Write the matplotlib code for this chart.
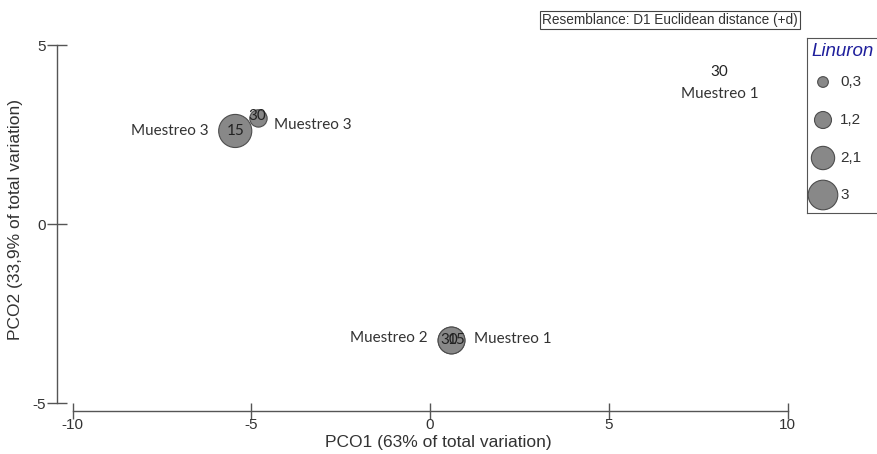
import matplotlib
matplotlib.use('Agg')
import matplotlib.pyplot as plt

plt.rcParams['font.family'] = ['Liberation Sans', 'DejaVu Sans']
plt.rcParams['axes.unicode_minus'] = False

# PCO scores
pco1 = [8.1, -5.45, -4.8, 0.6, 0.6]
pco2 = [3.95, 2.6, 2.95, -3.25, -3.25]
linuron = [0.0, 3.5, 1.25, 2.6, 2.6]
dia = ['30', '15', '30', '30', '15']
muestreo = ['Muestreo 1', 'Muestreo 3', 'Muestreo 3', 'Muestreo 2', 'Muestreo 1']

legend_values = [0.3, 1.2, 2.1, 3]
legend_labels = ['0,3', '1,2', '2,1', '3']

x_ticks = [-10, -5, 0, 5, 10]
y_ticks = [-5, 0, 5]

BUBBLE = '#888888'
EDGE = '#4d4d4d'
TEXT = '#333333'
AXIS = '#555555'


def bubble_size(v):
    # radius grows linearly with concentration (px), converted to points^2
    r_px = 4.3 + 3.5 * v
    d_pt = 2 * r_px * 0.72
    return d_pt ** 2


fig = plt.figure(figsize=(8.78, 4.54), dpi=100)
ax = fig.add_axes([0, 0, 1, 1])
ax.set_xlim(-12.03, 12.53)
ax.set_ylim(-6.42, 6.257)
ax.patch.set_alpha(0)

# detached axes, PRIMER style
for s in ['top', 'right']:
    ax.spines[s].set_visible(False)
ax.spines['left'].set_position(('data', -10.43))
ax.spines['left'].set_bounds(-5, 5)
ax.spines['bottom'].set_position(('data', -5.215))
ax.spines['bottom'].set_bounds(-10, 10)
for s in ['left', 'bottom']:
    ax.spines[s].set_color(AXIS)
    ax.spines[s].set_linewidth(1.0)
ax.set_xticks(x_ticks)
ax.set_yticks(y_ticks)
ax.tick_params(direction='inout', width=1.0, color=AXIS,
               labelsize=11, labelcolor=TEXT)
ax.tick_params(axis='y', length=14, pad=1)
ax.tick_params(axis='x', length=11, pad=0)

# bubbles
sizes = [bubble_size(v) if v > 0 else 0 for v in linuron]
ax.scatter(pco1, pco2, s=sizes, c=BUBBLE, edgecolors=EDGE, linewidths=0.8, zorder=3)

# labels: (day offset, muestreo offset, muestreo ha) in points
offsets = [
    ((0, 8), (0, -8), 'center'),
    ((0, 0), (-19, 0), 'right'),
    ((-1, 2), (11, -5), 'left'),
    ((-2, 0), (-17, 2), 'right'),
    ((4, 0), (16, 1), 'left'),
]
for i in range(len(pco1)):
    (dx, dy), (mx, my), mha = offsets[i]
    ax.annotate(dia[i], (pco1[i], pco2[i]), xytext=(dx, dy), textcoords='offset points',
                ha='center', va='center', fontsize=11, color='#222222',
                family='Lato', zorder=4)
    ax.annotate(muestreo[i], (pco1[i], pco2[i]), xytext=(mx, my), textcoords='offset points',
                ha=mha, va='center', fontsize=11, color=TEXT, family='Lato', zorder=4)

fig.text(438 / 878, 1 - 443 / 454, 'PCO1 (63% of total variation)', ha='center', va='center',
         fontsize=12.5, color=TEXT)
fig.text(16 / 878, 1 - 220 / 454, 'PCO2 (33,9% of total variation)', ha='center', va='center',
         rotation=90, fontsize=12.5, color=TEXT)

fig.text(670 / 878, 1 - 20 / 454, 'Resemblance: D1 Euclidean distance (+d)', ha='center',
         va='center', fontsize=9.8, color=TEXT,
         bbox=dict(boxstyle='square,pad=0.15', facecolor='white', edgecolor='#444444', lw=0.8))

# bubble key, drawn in its own small axes (box runs off the right edge)
lax = fig.add_axes([807 / 878, 1 - 213 / 454, 82 / 878, 175 / 454])
lax.set_xlim(0, 82)
lax.set_ylim(175, 0)
lax.set_xticks([])
lax.set_yticks([])
for s in lax.spines.values():
    s.set_color(AXIS)
    s.set_linewidth(0.8)
lax.text(4, 13, 'Linuron', ha='left', va='center', fontsize=13.5, style='italic',
         color='#1f1f9c')
key_y = [44, 82, 120, 157]
lax.scatter([16] * len(legend_values), key_y, s=[bubble_size(v) for v in legend_values],
            c=BUBBLE, edgecolors=EDGE, linewidths=0.8, clip_on=False, zorder=3)
for y, lab in zip(key_y, legend_labels):
    lax.text(33, y, lab, ha='left', va='center', fontsize=11, color=TEXT)

fig.savefig('out.png', dpi=100, facecolor='white')
